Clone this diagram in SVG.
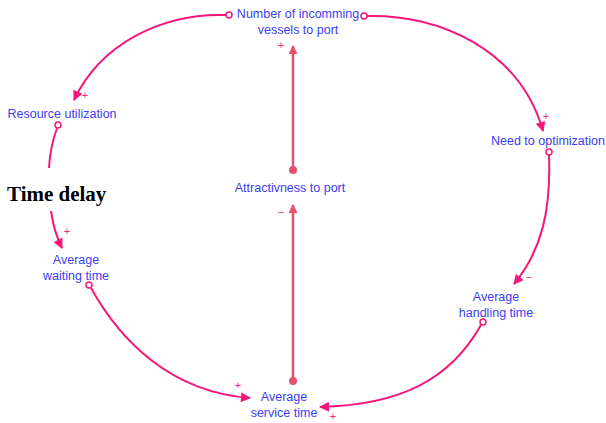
<svg xmlns="http://www.w3.org/2000/svg" width="606" height="423" viewBox="0 0 606 423">
<style>
.lbl{font-family:"Liberation Sans",Arial,sans-serif;font-size:12.5px;fill:#3d3df5;text-anchor:middle}
.sign{font-family:"Liberation Sans",Arial,sans-serif;font-size:11px;fill:#f0287a;text-anchor:middle}
.link{fill:none;stroke:#f5187a;stroke-width:2}
.vlink{fill:none;stroke:#e5506e;stroke-width:2.5}
.tail{fill:#fff;stroke:#f5187a;stroke-width:1.5}
</style>
<defs>
<marker id="ah" viewBox="0 0 10 10" refX="9" refY="5" markerWidth="5.5" markerHeight="5" orient="auto" markerUnits="strokeWidth">
<path d="M0,0 L10,5 L0,10 z" fill="#f5187a"/>
</marker>
<marker id="ahv" viewBox="0 0 10 10" refX="9" refY="5" markerWidth="4" markerHeight="3.6" orient="auto" markerUnits="strokeWidth">
<path d="M0,0 L10,5 L0,10 z" fill="#e5506e"/>
</marker>
</defs>
<rect width="606" height="423" fill="#fff"/>
<g id="connectors">
<path class="link" d="M226,15 C160,13 100,45 74,100" marker-end="url(#ah)"/>
<circle class="tail" cx="229" cy="15" r="3"/>
<path class="link" d="M367,16 C440,14 520,50 543,131" marker-end="url(#ah)"/>
<circle class="tail" cx="364" cy="16" r="3"/>
<path class="link" d="M549,155 C551,210 542,250 514,284" marker-end="url(#ah)"/>
<circle class="tail" cx="549" cy="152" r="3"/>
<path class="link" d="M481,325 C450,380 400,405 320,407" marker-end="url(#ah)"/>
<circle class="tail" cx="483" cy="322" r="3"/>
<path class="link" d="M91,288 C120,340 170,392 250,398" marker-end="url(#ah)"/>
<circle class="tail" cx="89" cy="285" r="3"/>
<path class="link" d="M57,128 Q50,148 49,168"/>
<path class="link" d="M51,211 Q54,232 62,248" marker-end="url(#ah)"/>
<circle class="tail" cx="58" cy="125" r="3"/>
<path class="vlink" d="M293,381 L293,205" marker-end="url(#ahv)"/>
<circle cx="293" cy="381" r="4" fill="#e5506e"/>
<path class="vlink" d="M293,170 L293,46" marker-end="url(#ahv)"/>
<circle cx="293" cy="170" r="4" fill="#e5506e"/>
<text class="sign" x="85" y="99">+</text>
<text class="sign" x="546" y="120">+</text>
<text class="sign" x="529" y="281">−</text>
<text class="sign" x="333" y="420">+</text>
<text class="sign" x="238" y="389">+</text>
<text class="sign" x="67" y="235">+</text>
<text class="sign" x="281" y="49">+</text>
<text class="sign" x="281" y="216">−</text>
</g>
<g id="n_incoming"><text class="lbl" x="298" y="18">Number of incomming</text><text class="lbl" x="298" y="34">vessels to port</text></g>
<g id="n_resource"><text class="lbl" x="62" y="118">Resource utilization</text></g>
<g id="n_timedelay"><text x="7" y="201" style="font-family:'Liberation Serif','Times New Roman',serif;font-size:21px;font-weight:bold;fill:#000">Time delay</text></g>
<g id="n_waiting"><text class="lbl" x="76" y="264">Average</text><text class="lbl" x="76" y="280">waiting time</text></g>
<g id="n_need"><text class="lbl" x="548" y="145">Need to optimization</text></g>
<g id="n_handling"><text class="lbl" x="496" y="301">Average</text><text class="lbl" x="496" y="317">handling time</text></g>
<g id="n_service"><text class="lbl" x="284" y="401">Average</text><text class="lbl" x="284" y="417">service time</text></g>
<g id="n_attract"><text class="lbl" x="290" y="192">Attractivness to port</text></g>
</svg>
